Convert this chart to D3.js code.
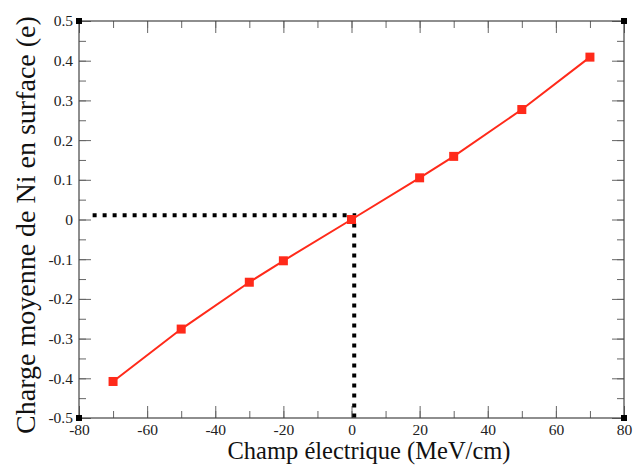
<!DOCTYPE html>
<html><head><meta charset="utf-8">
<script src="https://cdn.jsdelivr.net/npm/d3@7"></script>
<style>body{margin:0;background:#fff}svg{display:block}</style>
</head><body>
<script>
const fieldValues = [-70, -50, -30, -20, 0, 20, 30, 50, 70];
const chargeValues = [-0.408, -0.276, -0.158, -0.104, 0.0, 0.105, 0.159, 0.277, 0.409];
const cornerX = [-80, -80, 80, 80];
const cornerY = [-0.5, 0.5, -0.5, 0.5];
const guideX = [-76, 0.8, 0.8];
const guideY = [0.011, 0.011, -0.5];
const xTicks = [-80, -60, -40, -20, 0, 20, 40, 60, 80];
const yTicks = [-0.5, -0.4, -0.3, -0.2, -0.1, 0, 0.1, 0.2, 0.3, 0.4, 0.5];
const xLabel = "Champ électrique (MeV/cm)";
const yLabel = "Charge moyenne de Ni en surface (e)";

const W = 641, H = 470;
const m = {l: 79, r: 17, t: 21, b: 52};
const svg = d3.select("body").append("svg").attr("width", W).attr("height", H);
const x = d3.scaleLinear().domain([-80, 80]).range([m.l, W - m.r]);
const y = d3.scaleLinear().domain([-0.5, 0.5]).range([H - m.b, m.t]);
const font = "'Liberation Serif', 'Times New Roman', serif";
const axCol = "#444", tkCol = "#666";

const minorX = d3.range(-80, 81, 10);
const minorY = d3.range(-0.5, 0.501, 0.05);
const fmtX = v => String(v);
const fmtY = v => Math.abs(v) < 1e-9 ? "0" : v.toFixed(1);

function ticks(axisGen, tr){
  const g = svg.append("g").attr("transform", tr).call(axisGen);
  g.select(".domain").remove();
  g.selectAll(".tick line").attr("stroke", tkCol).attr("stroke-width", 1);
  return g;
}
// minor ticks (inward)
ticks(d3.axisBottom(x).tickValues(minorX).tickSize(-7).tickFormat(""), `translate(0,${y(-0.5)})`);
ticks(d3.axisTop(x).tickValues(minorX).tickSize(-7).tickFormat(""), `translate(0,${y(0.5)})`);
ticks(d3.axisLeft(y).tickValues(minorY).tickSize(-7).tickFormat(""), `translate(${x(-80)},0)`);
ticks(d3.axisRight(y).tickValues(minorY).tickSize(-7).tickFormat(""), `translate(${x(80)},0)`);
// major ticks
const gb = ticks(d3.axisBottom(x).tickValues(xTicks).tickSize(-12).tickPadding(6).tickFormat(fmtX), `translate(0,${y(-0.5)})`);
ticks(d3.axisTop(x).tickValues(xTicks).tickSize(-12).tickFormat(""), `translate(0,${y(0.5)})`);
const gl = ticks(d3.axisLeft(y).tickValues(yTicks).tickSize(-12).tickPadding(6).tickFormat(fmtY), `translate(${x(-80)},0)`);
ticks(d3.axisRight(y).tickValues(yTicks).tickSize(-12).tickFormat(""), `translate(${x(80)},0)`);
[gb, gl].forEach(g => {
  g.attr("font-family", null).attr("font-size", null);
  g.selectAll(".tick text").attr("fill", "#222").style("font-family", font).style("font-size", "15.5px");
});

// frame
svg.append("rect").attr("x", x(-80)).attr("y", y(0.5)).attr("width", x(80) - x(-80)).attr("height", y(-0.5) - y(0.5))
  .attr("fill", "none").attr("stroke", axCol).attr("stroke-width", 1.2);

// guide dotted lines
svg.append("path").datum(guideX.map((v, i) => [v, guideY[i]]))
  .attr("d", d3.line().x(d => x(d[0])).y(d => y(d[1])))
  .attr("fill", "none").attr("stroke", "#000").attr("stroke-width", 4).attr("stroke-dasharray", "4,6");

// data line
const pts = fieldValues.map((v, i) => [v, chargeValues[i]]);
svg.append("path").datum(pts).attr("d", d3.line().x(d => x(d[0])).y(d => y(d[1])))
  .attr("fill", "none").attr("stroke", "#ff2a1a").attr("stroke-width", 2);
svg.selectAll("rect.pt").data(pts).enter().append("rect").attr("class", "pt")
  .attr("x", d => x(d[0]) - 4.5).attr("y", d => y(d[1]) - 4.5).attr("width", 9).attr("height", 9).attr("fill", "#ff2a1a");

// corner markers
svg.selectAll("rect.cn").data(cornerX.map((v, i) => [v, cornerY[i]])).enter().append("rect").attr("class", "cn")
  .attr("x", d => x(d[0]) - 3).attr("y", d => y(d[1]) - 3).attr("width", 6).attr("height", 6).attr("fill", "#000");

// axis labels
svg.append("text").attr("x", 369).attr("y", 459).attr("text-anchor", "middle")
  .style("font-family", font).style("font-size", "24.5px").attr("fill", "#111").text(xLabel);
svg.append("text").attr("transform", `translate(35,225) rotate(-90)`).attr("text-anchor", "middle")
  .style("font-family", font).style("font-size", "28px").attr("fill", "#111").text(yLabel);
</script>
</body></html>
